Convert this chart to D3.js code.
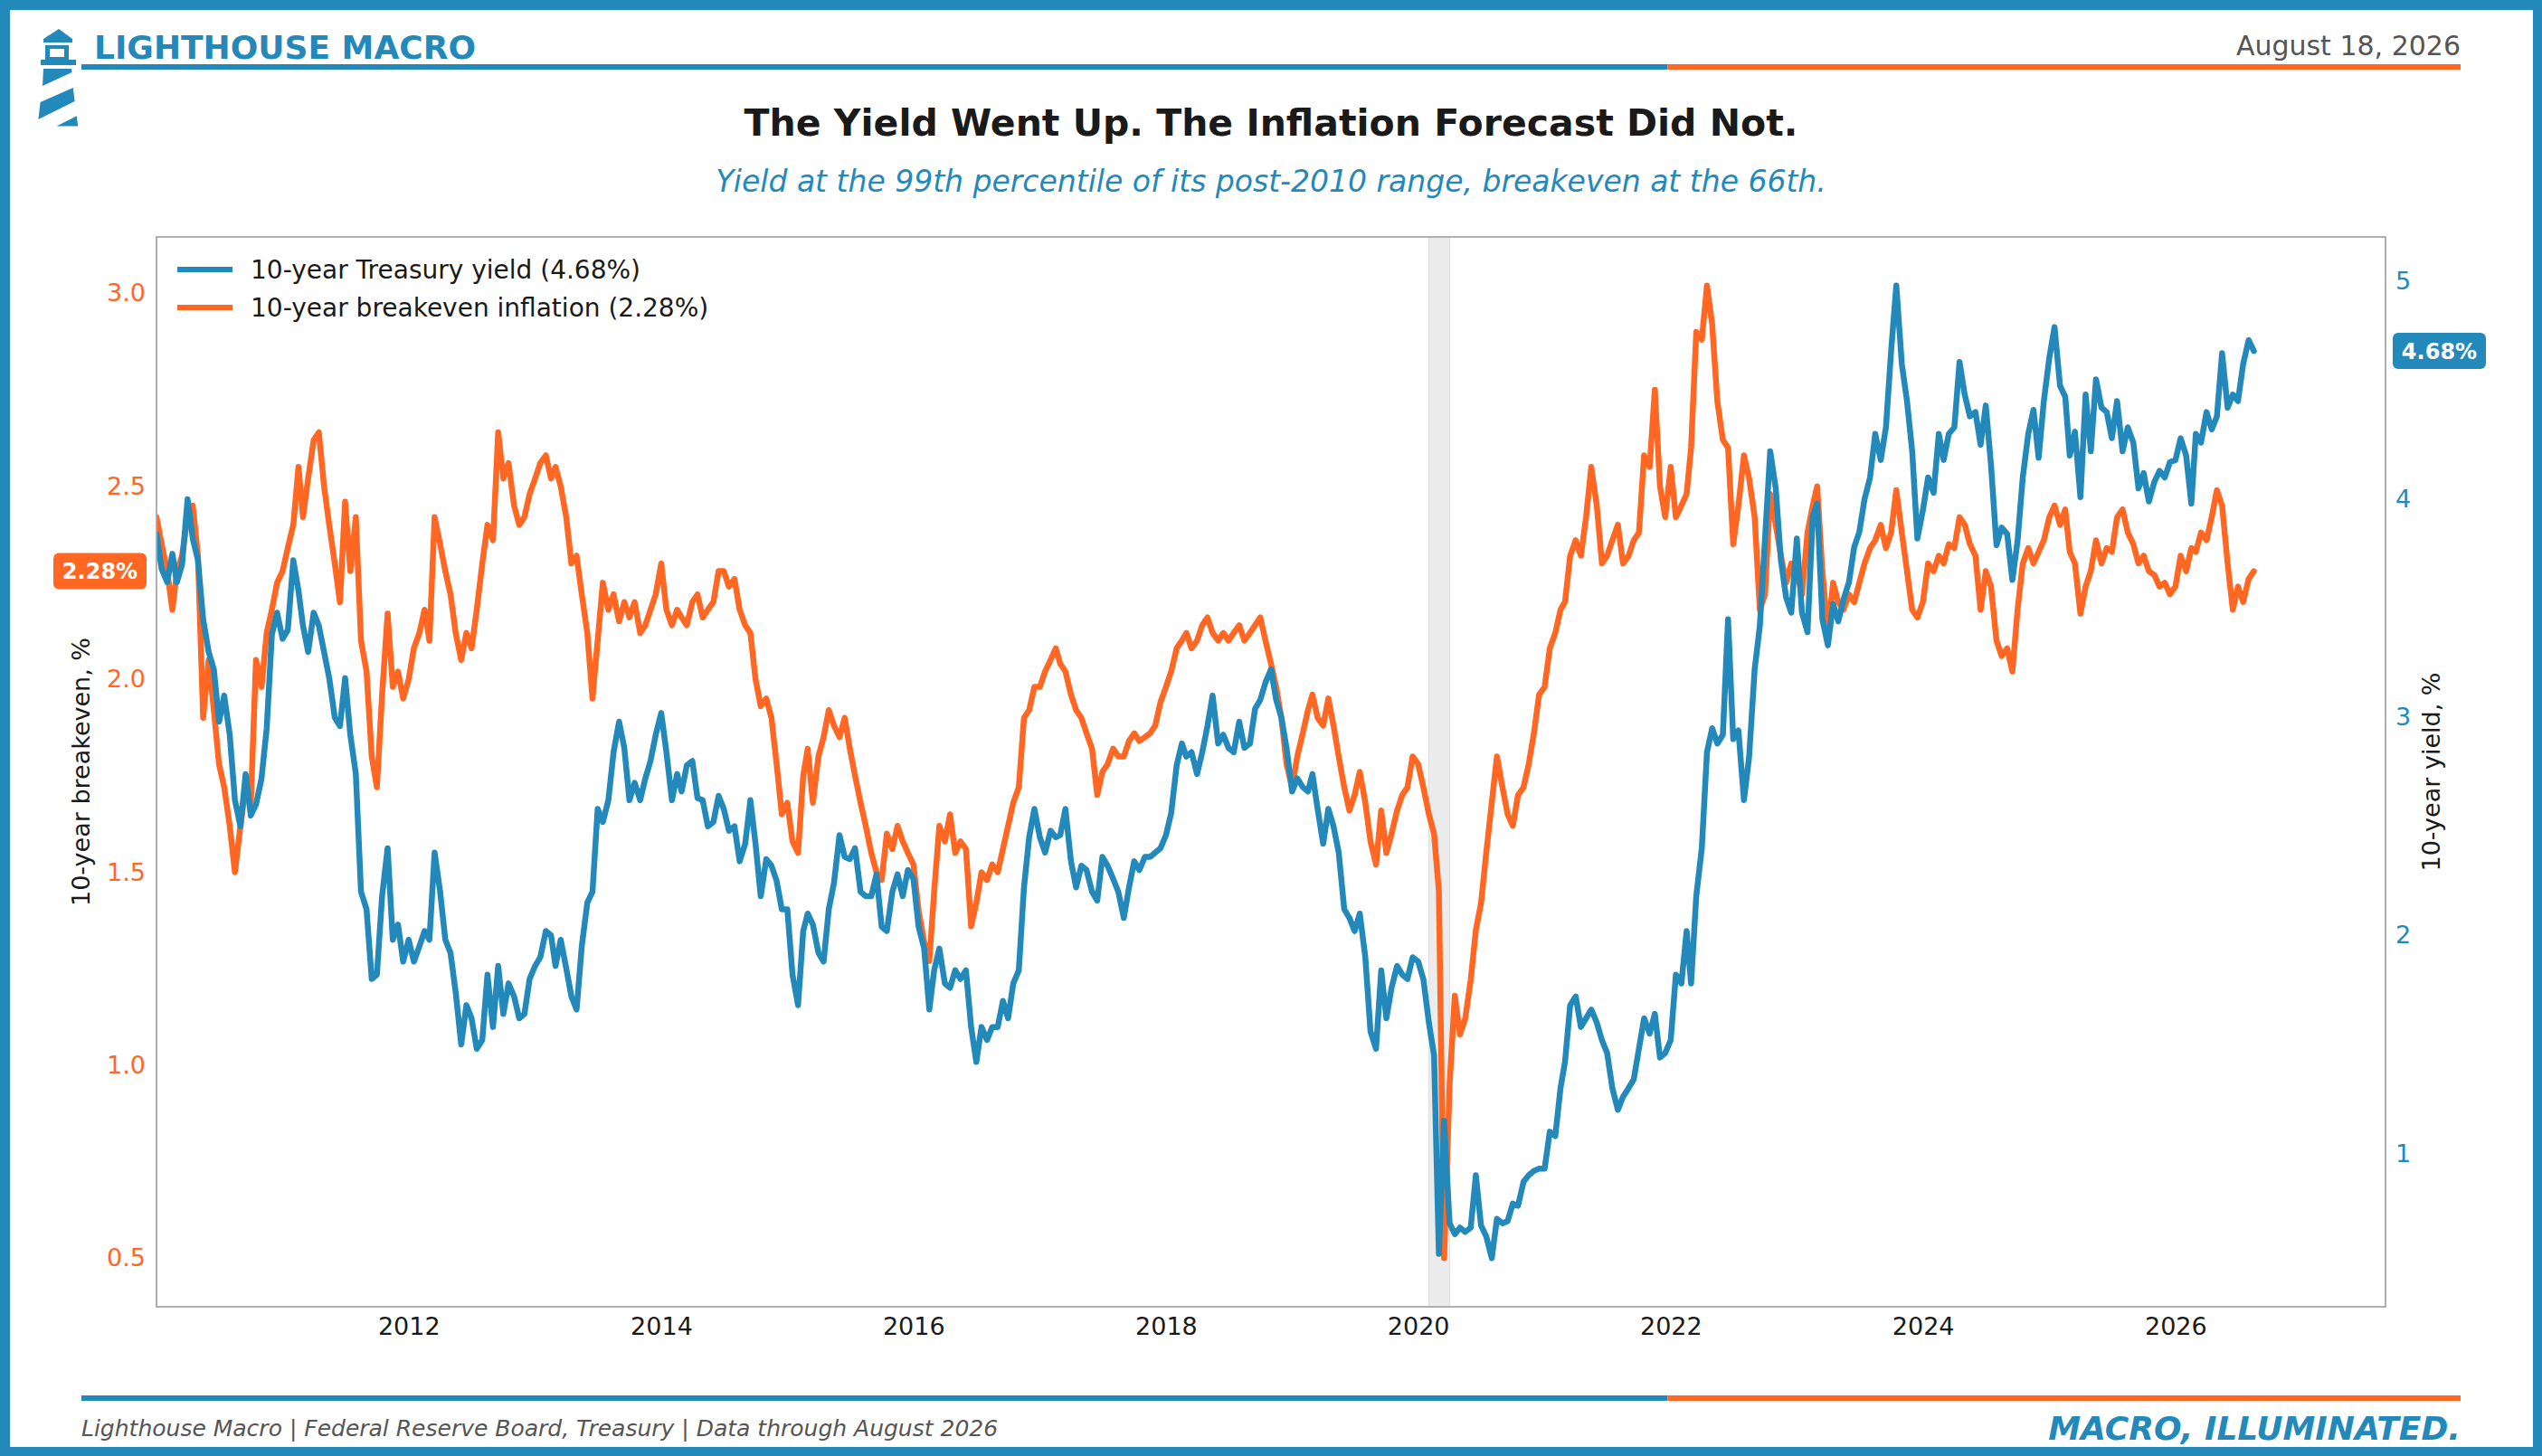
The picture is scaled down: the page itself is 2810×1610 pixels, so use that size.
<!DOCTYPE html>
<html>
<head>
<meta charset="utf-8">
<script src="https://cdn.jsdelivr.net/npm/d3@7"></script>
<style>
  html, body { margin: 0; padding: 0; background: #fff; overflow: hidden; }
  svg { display: block; font-family: "DejaVu Sans", sans-serif; }
</style>
</head>
<body>
<svg id="chart"></svg>
<script>
'use strict';

// semi-monthly observations (1st and 16th of each month), Jan 2010 .. Aug 2026
var startYear = 2010;

var yieldValues = [
  3.84, 3.68, 3.62, 3.75, 3.62, 3.70, 4.00, 3.82, 3.72, 3.45, 3.30, 3.22, 2.98, 3.10, 2.92, 2.62, 2.50, 2.74, 2.55, 2.60, 2.72, 2.95, 3.38, 3.48, // 2010
  3.36, 3.40, 3.72, 3.58, 3.42, 3.30, 3.48, 3.42, 3.30, 3.18, 3.00, 2.96, 3.18, 2.92, 2.74, 2.20, 2.12, 1.80, 1.82, 2.18, 2.40, 1.98, 2.05, 1.88, // 2011
  1.98, 1.88, 1.95, 2.02, 1.98, 2.38, 2.20, 1.98, 1.92, 1.74, 1.50, 1.68, 1.62, 1.48, 1.52, 1.82, 1.58, 1.86, 1.64, 1.78, 1.72, 1.62, 1.64, 1.80, // 2012
  1.86, 1.90, 2.02, 2.00, 1.86, 1.98, 1.85, 1.72, 1.66, 1.95, 2.15, 2.20, 2.58, 2.52, 2.62, 2.84, 2.98, 2.86, 2.62, 2.70, 2.62, 2.72, 2.80, 2.92, // 2013
  3.02, 2.84, 2.62, 2.74, 2.66, 2.78, 2.80, 2.63, 2.62, 2.50, 2.52, 2.64, 2.58, 2.48, 2.50, 2.34, 2.42, 2.62, 2.42, 2.18, 2.35, 2.32, 2.25, 2.12, // 2014
  2.12, 1.82, 1.68, 2.02, 2.10, 2.05, 1.92, 1.88, 2.12, 2.24, 2.46, 2.36, 2.35, 2.40, 2.20, 2.18, 2.18, 2.28, 2.04, 2.02, 2.20, 2.28, 2.18, 2.30, // 2015
  2.26, 2.04, 1.94, 1.66, 1.84, 1.94, 1.78, 1.76, 1.84, 1.80, 1.84, 1.58, 1.42, 1.58, 1.52, 1.58, 1.58, 1.70, 1.62, 1.78, 1.84, 2.22, 2.45, 2.58, // 2016
  2.45, 2.38, 2.48, 2.45, 2.46, 2.58, 2.34, 2.22, 2.32, 2.30, 2.20, 2.16, 2.36, 2.32, 2.26, 2.20, 2.08, 2.22, 2.34, 2.30, 2.36, 2.36, 2.38, 2.40, // 2017
  2.46, 2.56, 2.78, 2.88, 2.82, 2.84, 2.74, 2.84, 2.96, 3.10, 2.88, 2.92, 2.86, 2.84, 2.98, 2.86, 2.88, 3.04, 3.08, 3.16, 3.22, 3.08, 3.00, 2.86, // 2018
  2.66, 2.72, 2.68, 2.66, 2.74, 2.58, 2.42, 2.58, 2.50, 2.38, 2.12, 2.08, 2.02, 2.10, 1.90, 1.56, 1.48, 1.84, 1.62, 1.76, 1.86, 1.82, 1.80, 1.90, // 2019
  1.88, 1.80, 1.60, 1.45, 0.54, 1.15, 0.68, 0.63, 0.66, 0.64, 0.66, 0.90, 0.67, 0.62, 0.52, 0.70, 0.68, 0.69, 0.77, 0.76, 0.87, 0.90, 0.92, 0.93, // 2020
  0.93, 1.10, 1.08, 1.30, 1.42, 1.68, 1.72, 1.58, 1.62, 1.66, 1.60, 1.52, 1.46, 1.30, 1.20, 1.26, 1.30, 1.34, 1.48, 1.62, 1.55, 1.64, 1.44, 1.46, // 2021
  1.52, 1.82, 1.78, 2.02, 1.78, 2.18, 2.40, 2.84, 2.95, 2.88, 2.92, 3.45, 2.90, 2.94, 2.62, 2.82, 3.22, 3.42, 3.82, 4.22, 4.05, 3.72, 3.55, 3.48, // 2022
  3.82, 3.48, 3.39, 3.92, 3.98, 3.45, 3.33, 3.52, 3.44, 3.54, 3.62, 3.78, 3.85, 4.00, 4.10, 4.30, 4.18, 4.33, 4.68, 4.98, 4.62, 4.45, 4.22, 3.82, // 2023
  3.95, 4.10, 4.03, 4.30, 4.18, 4.30, 4.33, 4.63, 4.48, 4.38, 4.40, 4.25, 4.43, 4.16, 3.79, 3.87, 3.84, 3.63, 3.81, 4.10, 4.30, 4.41, 4.19, 4.45, // 2024
  4.65, 4.79, 4.52, 4.47, 4.20, 4.31, 4.01, 4.48, 4.22, 4.55, 4.42, 4.40, 4.28, 4.45, 4.22, 4.33, 4.26, 4.05, 4.12, 3.99, 4.08, 4.13, 4.10, 4.17, // 2025
  4.18, 4.28, 4.20, 3.98, 4.30, 4.26, 4.40, 4.32, 4.38, 4.67, 4.42, 4.48, 4.45, 4.62, 4.73, 4.68                                                  // 2026
];

var breakevenValues = [
  2.42, 2.35, 2.28, 2.18, 2.28, 2.32, 2.42, 2.45, 2.32, 1.90, 2.05, 1.92, 1.78, 1.72, 1.62, 1.50, 1.62, 1.72, 1.68, 2.05, 1.98, 2.12, 2.18, 2.25, // 2010
  2.28, 2.34, 2.40, 2.55, 2.42, 2.52, 2.62, 2.64, 2.50, 2.40, 2.30, 2.20, 2.46, 2.28, 2.42, 2.10, 2.02, 1.80, 1.72, 1.96, 2.17, 1.98, 2.02, 1.95, // 2011
  2.00, 2.08, 2.12, 2.18, 2.10, 2.42, 2.35, 2.28, 2.22, 2.12, 2.05, 2.12, 2.08, 2.18, 2.30, 2.40, 2.36, 2.64, 2.52, 2.56, 2.45, 2.40, 2.42, 2.48, // 2012
  2.52, 2.56, 2.58, 2.52, 2.55, 2.50, 2.42, 2.30, 2.32, 2.22, 2.12, 1.95, 2.10, 2.25, 2.18, 2.22, 2.15, 2.20, 2.16, 2.20, 2.12, 2.14, 2.18, 2.22, // 2013
  2.30, 2.18, 2.14, 2.18, 2.16, 2.14, 2.20, 2.22, 2.16, 2.18, 2.20, 2.28, 2.28, 2.24, 2.26, 2.18, 2.14, 2.12, 2.00, 1.93, 1.95, 1.90, 1.78, 1.65, // 2014
  1.68, 1.58, 1.55, 1.75, 1.82, 1.68, 1.80, 1.85, 1.92, 1.88, 1.85, 1.90, 1.82, 1.75, 1.68, 1.62, 1.55, 1.50, 1.48, 1.60, 1.56, 1.62, 1.58, 1.55, // 2015
  1.52, 1.40, 1.32, 1.27, 1.45, 1.62, 1.58, 1.65, 1.55, 1.58, 1.56, 1.36, 1.42, 1.50, 1.48, 1.52, 1.50, 1.56, 1.62, 1.68, 1.72, 1.90, 1.92, 1.98, // 2016
  1.98, 2.02, 2.05, 2.08, 2.04, 2.02, 1.96, 1.92, 1.90, 1.86, 1.82, 1.70, 1.76, 1.78, 1.82, 1.80, 1.80, 1.84, 1.86, 1.84, 1.85, 1.86, 1.88, 1.94, // 2017
  1.98, 2.02, 2.08, 2.10, 2.12, 2.08, 2.10, 2.14, 2.16, 2.12, 2.10, 2.12, 2.10, 2.12, 2.14, 2.10, 2.12, 2.14, 2.16, 2.10, 2.04, 1.98, 1.90, 1.78, // 2018
  1.72, 1.80, 1.86, 1.92, 1.96, 1.90, 1.88, 1.95, 1.88, 1.80, 1.72, 1.66, 1.70, 1.76, 1.68, 1.58, 1.52, 1.66, 1.55, 1.60, 1.66, 1.70, 1.72, 1.80, // 2019
  1.78, 1.72, 1.65, 1.60, 1.45, 0.50, 0.95, 1.18, 1.08, 1.12, 1.22, 1.35, 1.42, 1.55, 1.68, 1.80, 1.72, 1.65, 1.62, 1.70, 1.72, 1.78, 1.86, 1.96, // 2020
  1.98, 2.08, 2.12, 2.18, 2.20, 2.32, 2.36, 2.32, 2.42, 2.55, 2.45, 2.30, 2.32, 2.36, 2.40, 2.30, 2.32, 2.36, 2.38, 2.58, 2.55, 2.75, 2.50, 2.42, // 2021
  2.55, 2.42, 2.45, 2.48, 2.60, 2.90, 2.88, 3.02, 2.92, 2.72, 2.62, 2.60, 2.35, 2.45, 2.58, 2.52, 2.42, 2.18, 2.22, 2.48, 2.40, 2.32, 2.25, 2.30, // 2022
  2.28, 2.22, 2.38, 2.45, 2.50, 2.28, 2.12, 2.25, 2.20, 2.18, 2.22, 2.20, 2.25, 2.30, 2.34, 2.36, 2.40, 2.34, 2.38, 2.49, 2.38, 2.28, 2.18, 2.16, // 2023
  2.20, 2.30, 2.28, 2.32, 2.30, 2.35, 2.34, 2.42, 2.40, 2.35, 2.32, 2.18, 2.28, 2.24, 2.10, 2.06, 2.08, 2.02, 2.18, 2.30, 2.34, 2.30, 2.33, 2.36, // 2024
  2.42, 2.45, 2.40, 2.44, 2.33, 2.30, 2.17, 2.24, 2.28, 2.36, 2.30, 2.34, 2.33, 2.42, 2.44, 2.38, 2.35, 2.30, 2.32, 2.28, 2.27, 2.24, 2.25, 2.22, // 2025
  2.24, 2.32, 2.28, 2.34, 2.33, 2.38, 2.36, 2.42, 2.49, 2.45, 2.30, 2.18, 2.24, 2.20, 2.26, 2.28                                                  // 2026
];

var xTickYears = [2012, 2014, 2016, 2018, 2020, 2022, 2024, 2026];
var leftTicks = [0.5, 1.0, 1.5, 2.0, 2.5, 3.0];
var rightTicks = [1, 2, 3, 4, 5];
var recession = ['2020-02-01', '2020-04-01'];

var BLUE = '#2389bb', ORANGE = '#ff6723', INK = '#1a1a1a';
var W = 2810, H = 1610;
var plot = {x0: 173, x1: 2637, y0: 262, y1: 1445};

var svg = d3.select('#chart').attr('width', W).attr('height', H);

// outer frame
svg.append('rect').attr('width', W).attr('height', H).attr('fill', BLUE);
svg.append('rect').attr('x', 11).attr('y', 11).attr('width', W - 21).attr('height', H - 21).attr('fill', '#fff');

// lighthouse logo
var logo = svg.append('g').attr('fill', BLUE);
logo.append('polygon').attr('points', '48,43 65,32 80,43 80,47 48,47');
logo.append('rect').attr('x', 50).attr('y', 50).attr('width', 26).attr('height', 16);
logo.append('rect').attr('x', 55).attr('y', 54).attr('width', 16).attr('height', 9).attr('fill', '#fff');
logo.append('rect').attr('x', 45).attr('y', 66).attr('width', 39).attr('height', 6);
logo.append('polygon').attr('points', '48,76 79,76 79.5,80 47,95');
logo.append('polygon').attr('points', '44.6,113 80.8,97 82.6,112 42.4,132');
logo.append('polygon').attr('points', '62.5,139.5 84.8,128.3 86.2,139.5');

// header
svg.append('text').attr('x', 104).attr('y', 65).attr('font-size', 36).attr('font-weight', 'bold')
  .attr('fill', BLUE).text('LIGHTHOUSE MACRO');
svg.append('text').attr('x', 2720).attr('y', 61).attr('font-size', 30).attr('text-anchor', 'end')
  .attr('fill', '#555').text('August 18, 2026');

function ruler(y) {
  var split = 90 + (2720 - 90) * 2 / 3;
  svg.append('rect').attr('x', 90).attr('y', y - 3).attr('width', split - 90).attr('height', 6).attr('fill', BLUE);
  svg.append('rect').attr('x', split).attr('y', y - 3).attr('width', 2720 - split).attr('height', 6).attr('fill', ORANGE);
}
ruler(74);
ruler(1546);

var cx = (plot.x0 + plot.x1) / 2;
svg.append('text').attr('x', cx).attr('y', 150).attr('text-anchor', 'middle').attr('font-size', 41)
  .attr('font-weight', 'bold').attr('fill', INK).text('The Yield Went Up. The Inflation Forecast Did Not.');
svg.append('text').attr('x', cx).attr('y', 212).attr('text-anchor', 'middle').attr('font-size', 33)
  .attr('font-style', 'italic').attr('fill', BLUE)
  .text('Yield at the 99th percentile of its post-2010 range, breakeven at the 66th.');

// footer
svg.append('text').attr('x', 90).attr('y', 1588).attr('font-size', 25).attr('font-style', 'italic')
  .attr('fill', '#555').text('Lighthouse Macro | Federal Reserve Board, Treasury | Data through August 2026');
svg.append('text').attr('x', 2720).attr('y', 1592).attr('text-anchor', 'end').attr('font-size', 36)
  .attr('font-style', 'italic').attr('font-weight', 'bold').attr('fill', BLUE).text('MACRO, ILLUMINATED.');

// data
var dates = d3.range(yieldValues.length).map(function(i) {
  return new Date(startYear + Math.floor(i / 24), Math.floor((i % 24) / 2), i % 2 ? 16 : 1);
});

function padded(vals) {
  var e = d3.extent(vals), p = (e[1] - e[0]) * 0.05;
  return [e[0] - p, e[1] + p];
}

var x = d3.scaleTime().domain([new Date(2010, 0, 1), new Date(2027, 8, 1)]).range([plot.x0, plot.x1]);
var yL = d3.scaleLinear().domain(padded(breakevenValues)).range([plot.y1, plot.y0]);
var yR = d3.scaleLinear().domain(padded(yieldValues)).range([plot.y1, plot.y0]);

svg.append('clipPath').attr('id', 'clip').append('rect')
  .attr('x', plot.x0).attr('y', plot.y0).attr('width', plot.x1 - plot.x0).attr('height', plot.y1 - plot.y0);

// recession shading
var r0 = x(new Date(recession[0])), r1 = x(new Date(recession[1]));
svg.append('rect').attr('x', r0).attr('y', plot.y0).attr('width', r1 - r0).attr('height', plot.y1 - plot.y0)
  .attr('fill', '#ececec').attr('stroke', '#e2e2e2').attr('stroke-width', 1.5);

var lines = svg.append('g').attr('clip-path', 'url(#clip)');

lines.append('path')
  .datum(breakevenValues)
  .attr('fill', 'none').attr('stroke', ORANGE).attr('stroke-width', 6.5)
  .attr('stroke-linejoin', 'round').attr('stroke-linecap', 'round')
  .attr('d', d3.line().x(function(d, i) { return x(dates[i]); }).y(function(d) { return yL(d); }));

lines.append('path')
  .datum(yieldValues)
  .attr('fill', 'none').attr('stroke', BLUE).attr('stroke-width', 6.5)
  .attr('stroke-linejoin', 'round').attr('stroke-linecap', 'round')
  .attr('d', d3.line().x(function(d, i) { return x(dates[i]); }).y(function(d) { return yR(d); }));

// plot frame
svg.append('rect').attr('x', plot.x0).attr('y', plot.y0)
  .attr('width', plot.x1 - plot.x0).attr('height', plot.y1 - plot.y0)
  .attr('fill', 'none').attr('stroke', '#a8a8a8').attr('stroke-width', 1.8);

// axes
function styleAxis(g, color) {
  g.select('.domain').remove();
  g.selectAll('text').attr('font-size', 27).attr('fill', color).attr('font-family', '"DejaVu Sans", sans-serif');
}

svg.append('g').attr('transform', 'translate(0,' + plot.y1 + ')')
  .call(d3.axisBottom(x).tickValues(xTickYears.map(function(y) { return new Date(y, 0, 1); }))
    .tickFormat(d3.timeFormat('%Y')).tickSize(0).tickPadding(12))
  .call(styleAxis, INK);

svg.append('g').attr('transform', 'translate(' + plot.x0 + ',0)')
  .call(d3.axisLeft(yL).tickValues(leftTicks).tickFormat(d3.format('.1f')).tickSize(0).tickPadding(12))
  .call(styleAxis, ORANGE);

svg.append('g').attr('transform', 'translate(' + plot.x1 + ',0)')
  .call(d3.axisRight(yR).tickValues(rightTicks).tickFormat(d3.format('d')).tickSize(0).tickPadding(11))
  .call(styleAxis, BLUE);

var midY = (plot.y0 + plot.y1) / 2;
svg.append('text').attr('transform', 'translate(90,' + midY + ') rotate(-90)')
  .attr('text-anchor', 'middle').attr('dy', '0.35em').attr('font-size', 27).attr('fill', INK)
  .text('10-year breakeven, %');
svg.append('text').attr('transform', 'translate(2688,' + midY + ') rotate(-90)')
  .attr('text-anchor', 'middle').attr('dy', '0.35em').attr('font-size', 27).attr('fill', INK)
  .text('10-year yield, %');

// legend
var lastYield = yieldValues[yieldValues.length - 1];
var lastBe = breakevenValues[breakevenValues.length - 1];
var legendItems = [
  {label: '10-year Treasury yield (' + lastYield.toFixed(2) + '%)', color: BLUE},
  {label: '10-year breakeven inflation (' + lastBe.toFixed(2) + '%)', color: ORANGE}
];
var legend = svg.append('g').selectAll('g').data(legendItems).join('g')
  .attr('transform', function(d, i) { return 'translate(0,' + (298 + i * 42) + ')'; });
legend.append('line').attr('x1', 196).attr('x2', 257)
  .attr('stroke', function(d) { return d.color; }).attr('stroke-width', 6);
legend.append('text').attr('x', 277).attr('dy', '0.35em').attr('font-size', 28).attr('fill', INK)
  .text(function(d) { return d.label; });

// last-value tags
function tag(xLeft, yPos, value, color) {
  var g = svg.append('g').attr('transform', 'translate(' + xLeft + ',' + yPos + ')');
  g.append('rect').attr('x', 0).attr('y', -20).attr('width', 103).attr('height', 40).attr('rx', 6)
    .attr('fill', color);
  g.append('text').attr('x', 51.5).attr('dy', '0.36em').attr('text-anchor', 'middle')
    .attr('font-size', 24).attr('font-weight', 'bold').attr('fill', '#fff')
    .text(value.toFixed(2) + '%');
}
tag(2645, yR(lastYield), lastYield, BLUE);
tag(59, yL(lastBe), lastBe, ORANGE);
</script>
</body>
</html>
